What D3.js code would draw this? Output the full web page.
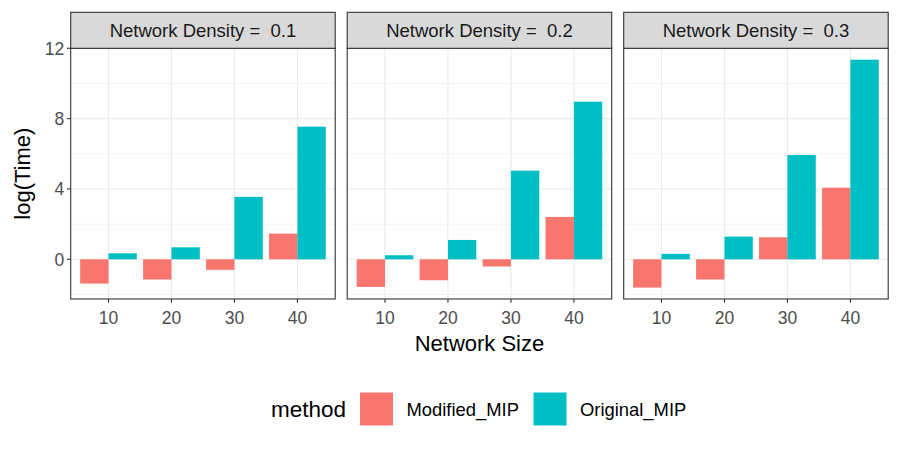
<!DOCTYPE html>
<html>
<head>
<meta charset="utf-8">
<script src="https://cdn.jsdelivr.net/npm/d3@7"></script>
<style>
  body { margin: 0; background: #fff; }
  svg text { font-family: "Liberation Sans", Arial, Helvetica, sans-serif; }
</style>
</head>
<body>
<div id="chart"></div>
<script>
// chart data
const densities = ["0.1", "0.2", "0.3"];
const sizes = ["10", "20", "30", "40"];
const methods = ["Modified_MIP", "Original_MIP"];
const colors = ["#F8766D", "#00BFC4"];
const modified = [
  [-1.38, -1.15, -0.60, 1.46],
  [-1.57, -1.19, -0.41, 2.41],
  [-1.61, -1.15, 1.25, 4.07]
];
const original = [
  [0.34, 0.68, 3.55, 7.54],
  [0.23, 1.10, 5.04, 8.96],
  [0.31, 1.29, 5.93, 11.35]
];
const yTicks = [0, 4, 8, 12];
const yMinor = [-2, 2, 6, 10];

const width = 900, height = 450;
const panelTop = 48.3, panelBottom = 299, stripH = 36;
const panelLeft = 70.7, panelW = 264.5, gap = 12;

const svg = d3.select("#chart").append("svg")
    .attr("width", width)
    .attr("height", height);

// y range with ggplot's 5% expansion
const all = modified.flat().concat(original.flat(), [0]);
const lo = d3.min(all), hi = d3.max(all);
const pad = (hi - lo) * 0.05;
const y = d3.scaleLinear()
    .domain([lo - pad, hi + pad])
    .range([panelBottom, panelTop]);

densities.forEach((dens, i) => {
    const x0 = panelLeft + i * (panelW + gap);
    const g = svg.append("g").attr("transform", "translate(" + x0 + ",0)");

    // discrete x: 4 slots plus 0.6 expansion each side, bars 0.9 wide dodged
    const x = d3.scalePoint()
        .domain(sizes)
        .range([0, panelW])
        .padding(0.6);
    const unit = x.step();
    const bw = 0.45 * unit;

    // grid
    g.selectAll(".minor").data(yMinor).enter().append("line")
        .attr("x1", 0).attr("x2", panelW)
        .attr("y1", d => y(d)).attr("y2", d => y(d))
        .attr("stroke", "#ebebeb").attr("stroke-width", 0.55);
    g.selectAll(".major").data(yTicks).enter().append("line")
        .attr("x1", 0).attr("x2", panelW)
        .attr("y1", d => y(d)).attr("y2", d => y(d))
        .attr("stroke", "#ebebeb").attr("stroke-width", 1.1);
    g.selectAll(".vgrid").data(sizes).enter().append("line")
        .attr("x1", d => x(d)).attr("x2", d => x(d))
        .attr("y1", panelTop).attr("y2", panelBottom)
        .attr("stroke", "#ebebeb").attr("stroke-width", 1.1);

    // bars
    [modified[i], original[i]].forEach((vals, m) => {
        g.selectAll(".bar" + m).data(sizes).enter().append("rect")
            .attr("x", d => x(d) - bw + m * bw)
            .attr("width", bw)
            .attr("y", (d, j) => y(Math.max(0, vals[j])))
            .attr("height", (d, j) => Math.abs(y(vals[j]) - y(0)))
            .attr("fill", colors[m]);
    });

    // panel border
    g.append("rect")
        .attr("x", 0).attr("y", panelTop)
        .attr("width", panelW).attr("height", panelBottom - panelTop)
        .attr("fill", "none").attr("stroke", "#333333").attr("stroke-width", 1.1);

    // strip
    g.append("rect")
        .attr("x", 0).attr("y", panelTop - stripH)
        .attr("width", panelW).attr("height", stripH)
        .attr("fill", "#d9d9d9").attr("stroke", "#333333").attr("stroke-width", 1.1);
    g.append("text")
        .attr("x", panelW / 2).attr("y", panelTop - stripH / 2)
        .attr("dy", "0.36em")
        .attr("text-anchor", "middle")
        .attr("font-size", 18.5)
        .attr("fill", "#1a1a1a")
        .attr("xml:space", "preserve")
        .text("Network Density =  " + dens);

    // x axis
    const xa = g.append("g");
    sizes.forEach(s => {
        xa.append("line")
            .attr("x1", x(s)).attr("x2", x(s))
            .attr("y1", panelBottom).attr("y2", panelBottom + 3.7)
            .attr("stroke", "#333333").attr("stroke-width", 1.1);
        xa.append("text")
            .attr("x", x(s)).attr("y", panelBottom + 19)
            .attr("dy", "0.36em")
            .attr("text-anchor", "middle")
            .attr("font-size", 17.5)
            .attr("fill", "#4d4d4d")
            .text(s);
    });

    // y axis only on the first panel
    if (i === 0) {
        yTicks.forEach(t => {
            g.append("line")
                .attr("x1", -3.7).attr("x2", 0)
                .attr("y1", y(t)).attr("y2", y(t))
                .attr("stroke", "#333333").attr("stroke-width", 1.1);
            g.append("text")
                .attr("x", -6.5).attr("y", y(t))
                .attr("dy", "0.36em")
                .attr("text-anchor", "end")
                .attr("font-size", 17.5)
                .attr("fill", "#4d4d4d")
                .text(t);
        });
    }
});

// axis titles
svg.append("text")
    .attr("x", panelLeft + (3 * panelW + 2 * gap) / 2)
    .attr("y", 343.5)
    .attr("dy", "0.36em")
    .attr("text-anchor", "middle")
    .attr("font-size", 22)
    .text("Network Size");

svg.append("text")
    .attr("transform", "translate(22," + ((panelTop + panelBottom) / 2) + ") rotate(-90)")
    .attr("dy", "0.36em")
    .attr("text-anchor", "middle")
    .attr("font-size", 22)
    .text("log(Time)");

// legend
const lg = svg.append("g");
lg.append("text")
    .attr("x", 271).attr("y", 409)
    .attr("dy", "0.36em")
    .attr("font-size", 22.5)
    .text("method");
const keyX = [360, 533.5], labX = [406.5, 580];
methods.forEach((m, k) => {
    lg.append("rect")
        .attr("x", keyX[k]).attr("y", 392.5)
        .attr("width", 33).attr("height", 33)
        .attr("fill", colors[k]);
    lg.append("text")
        .attr("x", labX[k]).attr("y", 409)
        .attr("dy", "0.36em")
        .attr("font-size", 18.4)
        .text(m);
});
</script>
</body>
</html>
